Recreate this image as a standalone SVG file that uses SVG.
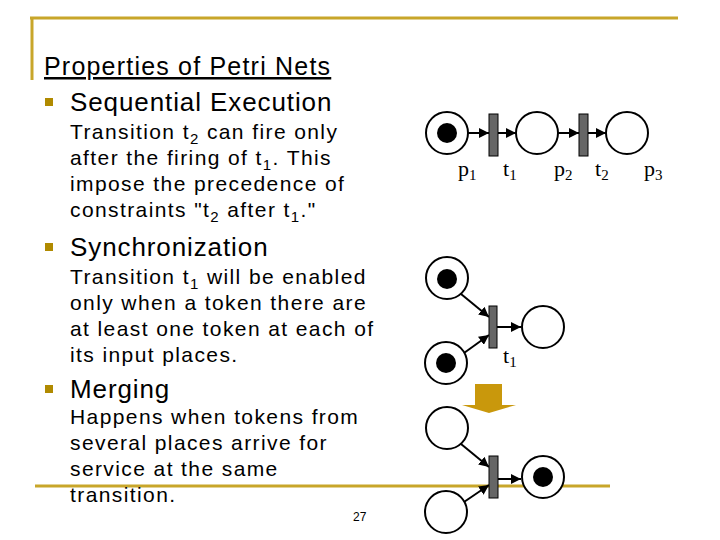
<svg xmlns="http://www.w3.org/2000/svg" width="720" height="540" viewBox="0 0 720 540">
<style>
.t{font-family:"Liberation Sans",Arial,sans-serif;fill:#000}
.h{font-size:26px;letter-spacing:0.9px}
.s{font-size:21px;letter-spacing:1.4px}
.lab{font-family:"Liberation Serif","Times New Roman",serif;font-size:22px}
.pl{fill:#fff;stroke:#000;stroke-width:2}
.tr{fill:#666;stroke:#000;stroke-width:1}
.arc{stroke:#000;stroke-width:2;fill:none;marker-end:url(#ah)}
.gold{stroke:#c8a62a;stroke-width:3}
.bul{fill:#b08a00}
</style>
<defs>
<marker id="ah" viewBox="0 0 10 10" refX="10" refY="5" markerWidth="5" markerHeight="5" orient="auto"><path d="M0,0L10,5L0,10z" fill="#000"/></marker>
</defs>
<rect width="720" height="540" fill="#fff"/>
<line class="gold" x1="30" y1="18" x2="678" y2="18"/>
<line class="gold" x1="32" y1="18" x2="32" y2="80"/>
<line class="gold" x1="35" y1="486" x2="610" y2="486"/>
<text class="t" x="44" y="75" font-size="25" letter-spacing="1.2" text-decoration="underline">Properties of Petri Nets</text>
<rect class="bul" x="45" y="98" width="8" height="8"/>
<text class="t h" x="70" y="111">Sequential Execution</text>
<text class="t s" x="70" y="139">Transition t<tspan font-size="15" dy="5">2</tspan><tspan dy="-5"> can fire only</tspan></text>
<text class="t s" x="70" y="165">after the firing of t<tspan font-size="15" dy="5">1</tspan><tspan dy="-5">. This</tspan></text>
<text class="t s" x="70" y="191">impose the precedence of</text>
<text class="t s" x="70" y="217">constraints "t<tspan font-size="15" dy="5">2</tspan><tspan dy="-5"> after t</tspan><tspan font-size="15" dy="5">1</tspan><tspan dy="-5">."</tspan></text>
<rect class="bul" x="45" y="243" width="8" height="8"/>
<text class="t h" x="70" y="256">Synchronization</text>
<text class="t s" x="70" y="284">Transition t<tspan font-size="15" dy="5">1</tspan><tspan dy="-5"> will be enabled</tspan></text>
<text class="t s" x="70" y="310">only when a token there are</text>
<text class="t s" x="70" y="336">at least one token at each of</text>
<text class="t s" x="70" y="362">its input places.</text>
<rect class="bul" x="45" y="385" width="8" height="8"/>
<text class="t h" x="70" y="398">Merging</text>
<text class="t s" x="70" y="424">Happens when tokens from</text>
<text class="t s" x="70" y="450">several places arrive for</text>
<text class="t s" x="70" y="476">service at the same</text>
<text class="t s" x="70" y="502">transition.</text>
<text class="t" x="353" y="521" font-size="12">27</text>

<g id="connectors">
<line class="arc" x1="468" y1="133" x2="489" y2="133"/>
<line class="arc" x1="498" y1="133" x2="516" y2="133"/>
<line class="arc" x1="558" y1="133" x2="579" y2="133"/>
<line class="arc" x1="588" y1="133" x2="606" y2="133"/>
<line class="arc" x1="461" y1="294" x2="489" y2="317"/>
<line class="arc" x1="464" y1="353" x2="489" y2="335"/>
<line class="arc" x1="497" y1="327" x2="521" y2="327"/>
<line class="arc" x1="461" y1="444" x2="489" y2="467"/>
<line class="arc" x1="464" y1="502" x2="489" y2="485"/>
<line class="arc" x1="496" y1="479" x2="521" y2="479"/>
</g>

<g id="seq">
<g id="p1"><circle class="pl" cx="447" cy="133" r="21"/><circle cx="447" cy="133" r="10"/><text class="lab" x="458" y="176">p<tspan font-size="15" dy="4">1</tspan></text></g>
<g id="t1"><rect class="tr" x="489" y="114" width="9" height="42"/><text class="lab" x="503" y="176">t<tspan font-size="15" dy="4">1</tspan></text></g>
<g id="p2"><circle class="pl" cx="537" cy="133" r="21"/><text class="lab" x="554" y="176">p<tspan font-size="15" dy="4">2</tspan></text></g>
<g id="t2"><rect class="tr" x="579" y="114" width="9" height="42"/><text class="lab" x="595" y="176">t<tspan font-size="15" dy="4">2</tspan></text></g>
<g id="p3"><circle class="pl" cx="627" cy="133" r="21"/><text class="lab" x="644" y="176">p<tspan font-size="15" dy="4">3</tspan></text></g>
</g>

<g id="sync">
<g id="sp1"><circle class="pl" cx="447" cy="278" r="21"/><circle cx="447" cy="279" r="10"/></g>
<g id="sp2"><circle class="pl" cx="446" cy="363" r="21"/><circle cx="446" cy="363" r="10"/></g>
<g id="st1"><rect class="tr" x="489" y="306" width="8" height="42"/><text class="lab" x="503" y="363">t<tspan font-size="15" dy="4">1</tspan></text></g>
<g id="sp3"><circle class="pl" cx="543" cy="327" r="21"/></g>
</g>

<g id="bigarrow"><path d="M475,384H502V405H516L489,413L462,405H475Z" fill="#c9980c"/></g>

<g id="merge">
<g id="mp1"><circle class="pl" cx="447" cy="428" r="21"/></g>
<g id="mp2"><circle class="pl" cx="446" cy="512" r="21"/></g>
<g id="mt1"><rect class="tr" x="489" y="456" width="9" height="42"/></g>
<g id="mp3"><circle class="pl" cx="543" cy="477" r="21"/><circle cx="543" cy="477" r="10"/></g>
</g>
</svg>
